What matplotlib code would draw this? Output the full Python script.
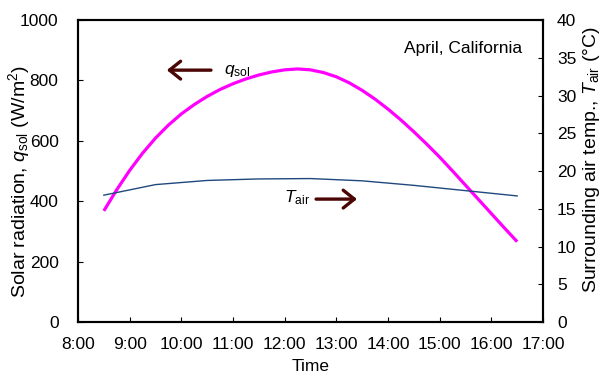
import matplotlib
matplotlib.use("Agg")
import matplotlib.pyplot as plt
from matplotlib.ticker import FixedLocator

plt.rcParams['font.family'] = ['Liberation Sans', 'DejaVu Sans']
plt.rcParams['mathtext.fontset'] = 'custom'
plt.rcParams['mathtext.rm'] = 'Liberation Sans'
plt.rcParams['mathtext.it'] = 'Liberation Sans:italic'
plt.rcParams['mathtext.bf'] = 'Liberation Sans:bold'
plt.rcParams['font.size'] = 12.5

FS = 12.5
LABEL_FS = 14

# Solar radiation (W/m2), every quarter hour from 8:30 to 16:30
q_time = [8.50, 8.75, 9.00, 9.25, 9.50, 9.75, 10.00, 10.25, 10.50, 10.75,
          11.00, 11.25, 11.50, 11.75, 12.00, 12.25, 12.50, 12.75, 13.00,
          13.25, 13.50, 13.75, 14.00, 14.25, 14.50, 14.75, 15.00, 15.25,
          15.50, 15.75, 16.00, 16.25, 16.50]
q_sol = [368, 438, 502, 559, 609, 652, 689, 720, 747, 770,
         789, 805, 818, 828, 835, 838, 835, 826, 812,
         792, 767, 738, 705, 669, 630, 589, 546, 500,
         453, 406, 359, 312, 266]

# Surrounding air temperature (deg C), hourly at half past
t_time = [8.5, 9.5, 10.5, 11.5, 12.5, 13.5, 14.5, 15.5, 16.5]
t_air = [16.8, 18.2, 18.75, 18.95, 19.0, 18.7, 18.1, 17.4, 16.7]

hour_ticks = list(range(8, 18))
hour_labels = [f"{h}:00" for h in hour_ticks]
q_ticks = [0, 200, 400, 600, 800, 1000]
t_ticks = [0, 5, 10, 15, 20, 25, 30, 35, 40]

arrow_color = "#4a0505"

fig = plt.figure(figsize=(6.0, 3.74), dpi=100)
ax = fig.add_axes([0.13, 0.139, 0.775, 0.8075])
ax2 = ax.twinx()

ax.plot(q_time, q_sol, color="#FF00FF", lw=2.3, solid_capstyle="butt", zorder=3)
ax2.plot(t_time, t_air, color="#1F497D", lw=1.0, zorder=2)

ax.set_xlim(8, 17)
ax.set_ylim(0, 1000)
ax2.set_ylim(0, 40)

ax.xaxis.set_major_locator(FixedLocator(hour_ticks))
ax.set_xticklabels(hour_labels)
ax.yaxis.set_major_locator(FixedLocator(q_ticks))
ax2.yaxis.set_major_locator(FixedLocator(t_ticks))

for a in (ax, ax2):
    for s in a.spines.values():
        s.set_linewidth(1.5)

ax.tick_params(axis='x', direction='in', length=3.5, width=0.8, pad=11,
               top=False, labelsize=FS)
ax.tick_params(axis='y', direction='in', length=3.5, width=0.8, pad=14,
               right=False, labelsize=FS)
ax2.tick_params(axis='y', direction='in', length=3.5, width=0.8, pad=10,
                labelsize=FS)

ax.set_xlabel("Time", fontsize=FS, labelpad=5)
fig.text(0.032, 0.515, r"Solar radiation, $q_{\rm sol}$ (W/m$^2$)",
         rotation=90, ha="center", va="center", fontsize=LABEL_FS)
fig.text(0.985, 0.217, r"Surrounding air temp., $T_{\rm air}$ (°C)",
         rotation=90, ha="center", va="bottom", fontsize=LABEL_FS)

ax.text(0.955, 0.907, "April, California", transform=ax.transAxes,
        ha="right", va="center", fontsize=FS)

arrow_kw = dict(arrowstyle="->, head_length=0.5, head_width=0.4",
                color=arrow_color, lw=2.4, mutation_scale=16,
                shrinkA=0, shrinkB=0)
ax.annotate("", xy=(0.191, 0.834), xytext=(0.286, 0.834),
            xycoords="axes fraction", textcoords="axes fraction",
            arrowprops=arrow_kw)
ax.text(0.314, 0.830, r"$q_{\rm sol}$", transform=ax.transAxes,
        ha="left", va="center", fontsize=FS)

ax.annotate("", xy=(0.600, 0.407), xytext=(0.512, 0.407),
            xycoords="axes fraction", textcoords="axes fraction",
            arrowprops=arrow_kw)
ax.text(0.443, 0.412, r"$T_{\rm air}$", transform=ax.transAxes,
        ha="left", va="center", fontsize=FS)

fig.savefig("out.png", dpi=100)
